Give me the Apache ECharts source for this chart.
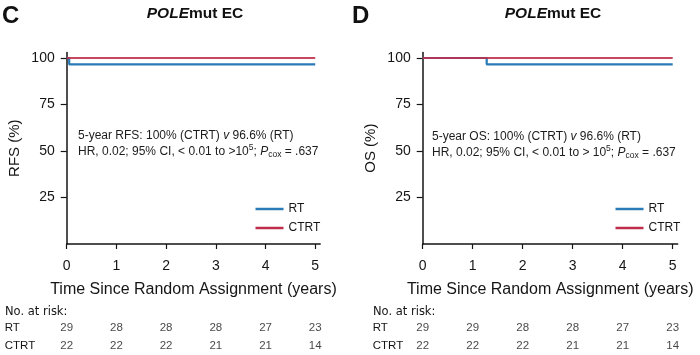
<!DOCTYPE html>
<html><head><meta charset="utf-8">
<script src="https://cdn.jsdelivr.net/npm/echarts@6/dist/echarts.min.js"></script>
<style>html,body{margin:0;padding:0;background:#fff}#c{width:700px;height:355px}</style>
</head><body><div id="c"></div>
<script>
// ---- data ----
const xTicks = [0, 1, 2, 3, 4, 5];
const yTicks = [25, 50, 75, 100];
const rfsRT = [[0, 100], [0.05, 96.6], [5, 96.6]];
const rfsCTRT = [[0, 100], [5, 100]];
const osRT = [[0, 100], [1.28, 96.6], [5, 96.6]];
const osCTRT = [[0, 100], [5, 100]];
const riskGroups = ['RT', 'CTRT'];
const riskRT_C = [29, 28, 28, 28, 27, 23];
const riskCTRT_C = [22, 22, 22, 21, 21, 14];
const riskRT_D = [29, 29, 28, 28, 27, 23];
const riskCTRT_D = [22, 22, 22, 21, 21, 14];

const BLUE = '#2a7ab6', RED = '#bf2e4b', AX = '#151515', TXT = '#151515';
const FONT = 'Liberation Sans, Arial, sans-serif';

const panels = [
  {left: 66.7, width: 253.5, yName: 'RFS (%)', rt: rfsRT, ct: rfsCTRT, rRT: riskRT_C, rCT: riskCTRT_C, lblMargin: 62},
  {left: 422.7, width: 255, yName: 'OS (%)', rt: osRT, ct: osCTRT, rRT: riskRT_D, rCT: riskCTRT_D, lblMargin: 50}
];

const grid = [], xAxis = [], yAxis = [], series = [];
panels.forEach((p, i) => {
  grid.push({left: p.left, top: 52.4, width: p.width, height: 191.6});
  grid.push({left: p.left, top: 319, width: p.width, height: 36});
  const gMain = i * 2, gRisk = i * 2 + 1;
  xAxis.push({
    gridIndex: gMain, type: 'value', min: 0, max: 5.1,
    name: 'Time Since Random Assignment (years)', nameLocation: 'middle', nameGap: 38,
    nameTextStyle: {fontFamily: FONT, fontSize: 16, color: TXT},
    axisLine: {show: true, lineStyle: {color: AX, width: 1.5}},
    axisTick: {show: true, length: 5, customValues: xTicks, lineStyle: {color: AX, width: 1.2}},
    axisLabel: {customValues: xTicks, margin: 15, fontFamily: FONT, fontSize: 14, color: TXT},
    splitLine: {show: false}
  });
  yAxis.push({
    gridIndex: gMain, type: 'value', min: 0, max: 103,
    name: p.yName, nameLocation: 'middle', nameGap: 44, nameRotate: 90,
    nameTextStyle: {fontFamily: FONT, fontSize: 15, color: TXT},
    axisLine: {show: true, lineStyle: {color: AX, width: 1.5}},
    axisTick: {show: true, length: 6, customValues: yTicks, lineStyle: {color: AX, width: 1.2}},
    axisLabel: {customValues: yTicks, margin: 12, fontFamily: FONT, fontSize: 14, color: TXT},
    splitLine: {show: false}
  });
  xAxis.push({gridIndex: gRisk, type: 'value', min: 0, max: 5.1, show: false});
  yAxis.push({
    gridIndex: gRisk, type: 'category', data: riskGroups, inverse: true,
    axisLine: {show: false}, axisTick: {show: false},
    axisLabel: {align: 'left', margin: p.lblMargin, fontFamily: FONT, fontSize: 11.5, color: TXT}
  });
  const axi = i * 2;
  series.push({
    type: 'line', name: 'RT', xAxisIndex: axi, yAxisIndex: axi, step: 'end',
    data: p.rt, symbol: 'none', lineStyle: {color: BLUE, width: 2.2}, itemStyle: {color: BLUE}, z: 2
  });
  series.push({
    type: 'line', name: 'CTRT', xAxisIndex: axi, yAxisIndex: axi, step: 'end',
    data: p.ct, symbol: 'none', lineStyle: {color: RED, width: 2.2, opacity: 0.88}, itemStyle: {color: RED}, z: 3
  });
  const riskData = [];
  xTicks.forEach((t, k) => {
    riskData.push([t, 'RT', p.rRT[k]]);
    riskData.push([t, 'CTRT', p.rCT[k]]);
  });
  series.push({
    type: 'scatter', xAxisIndex: axi + 1, yAxisIndex: axi + 1, data: riskData,
    symbolSize: 1, itemStyle: {color: 'rgba(0,0,0,0)'}, silent: true,
    label: {show: true, position: 'inside', formatter: d => d.value[2], fontFamily: FONT, fontSize: 11.5, color: TXT}
  });
});

const legendBase = {
  orient: 'vertical', data: ['RT', 'CTRT'], icon: 'rect', itemWidth: 28, itemHeight: 2.5,
  itemGap: 7, padding: 0, textStyle: {fontFamily: FONT, fontSize: 12, color: TXT}, selectedMode: false
};

const AC = '#1c1c1c';
function annot(x, y, line1) {
  return [
    {type: 'text', x: x, y: y, style: {text: line1, fontFamily: FONT, fontSize: 12, fill: AC, verticalAlign: 'middle',
      rich: {it: {fontStyle: 'italic', fontFamily: FONT, fontSize: 12, fill: AC}}}},
    {type: 'text', x: x, y: y + 16, style: {
      text: 'HR, 0.02; 95% CI, < 0.01 to ' + (x > 300 ? '> ' : '>') + '10{sup|5}; {it|P}{sub|cox} = .637',
      fontFamily: FONT, fontSize: 12, fill: AC, verticalAlign: 'middle',
      rich: {
        sup: {fontFamily: FONT, fontSize: 8.5, padding: [0, 0, 9, 0], fill: AC},
        sub: {fontFamily: FONT, fontSize: 8.5, padding: [5, 0, 0, 0], fill: AC},
        it: {fontStyle: 'italic', fontFamily: FONT, fontSize: 12, fill: AC}
      }}}
  ];
}
function title(cx, letterX, letter) {
  return [
    {type: 'text', x: letterX, y: 16, style: {text: letter, fontFamily: FONT, fontSize: 24, fontWeight: 'bold', fill: '#111', verticalAlign: 'middle'}},
    {type: 'text', x: cx, y: 14, style: {text: '{i|POLE}{b|mut EC}', align: 'center', verticalAlign: 'middle',
      rich: {i: {fontFamily: FONT, fontSize: 15.5, fontWeight: 'bold', fontStyle: 'italic', fill: '#111'},
             b: {fontFamily: FONT, fontSize: 15.5, fontWeight: 'bold', fill: '#111'}}}}
  ];
}
const RISKFONT = 'DejaVu Sans, sans-serif';
const graphic = [].concat(
  title(195, 2, 'C'), title(553, 352, 'D'),
  annot(78, 136, '5-year RFS: 100% (CTRT) {it|v} 96.6% (RT)'),
  annot(432, 137, '5-year OS: 100% (CTRT) {it|v} 96.6% (RT)'),
  [
    {type: 'text', x: 5, y: 312, style: {text: 'No. at risk:', fontFamily: RISKFONT, fontSize: 11.5, fill: TXT, verticalAlign: 'middle'}},
    {type: 'text', x: 373, y: 312, style: {text: 'No. at risk:', fontFamily: RISKFONT, fontSize: 11.5, fill: TXT, verticalAlign: 'middle'}}
  ]
);

const chart = echarts.init(document.getElementById('c'), null, {renderer: 'canvas'});
chart.setOption({
  animation: false,
  grid, xAxis, yAxis, series,
  legend: [
    Object.assign({}, legendBase, {left: 255.5, top: 203}),
    Object.assign({}, legendBase, {left: 615.5, top: 203})
  ],
  graphic
});
</script></body></html>
